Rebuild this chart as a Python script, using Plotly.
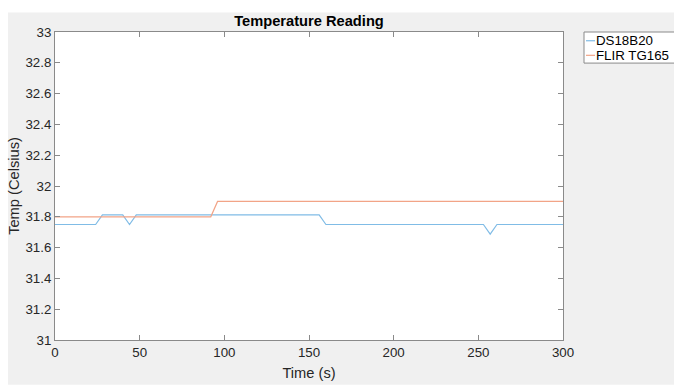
import plotly.graph_objects as go

# ---- data ----
ds_time = [0, 24, 28, 40, 44, 48, 156, 160, 253, 257, 261, 300]
ds_temp = [31.75, 31.75, 31.8125, 31.8125, 31.75, 31.8125, 31.8125, 31.75, 31.75, 31.6875, 31.75, 31.75]
flir_time = [0, 92, 96, 300]
flir_temp = [31.8, 31.8, 31.9, 31.9]
x_ticks = [0, 50, 100, 150, 200, 250, 300]
y_ticks = [31, 31.2, 31.4, 31.6, 31.8, 32, 32.2, 32.4, 32.6, 32.8, 33]
y_ticklabels = ["31", "31.2", "31.4", "31.6", "31.8", "32", "32.2", "32.4", "32.6", "32.8", "33"]
series_names = ["DS18B20", "FLIR TG165"]

# ---- layout geometry (pixels) ----
W, H = 674, 390
L, R, T, B = 55, 563, 32, 349
BLUE = "#80bce6"
ORANGE = "#f2a487"
AX = "#8a8a8a"
TXT = "#262626"
FONT = "Liberation Sans, Arial, Helvetica, sans-serif"
FS = 13.3

def px(x):
    return (x - L) / (R - L)

def py(y):
    return (B - y) / (B - T)

fig = go.Figure()
fig.add_trace(go.Scatter(x=ds_time, y=ds_temp, mode="lines", name=series_names[0],
                         line=dict(color=BLUE, width=1.2), showlegend=False))
fig.add_trace(go.Scatter(x=flir_time, y=flir_temp, mode="lines", name=series_names[1],
                         line=dict(color=ORANGE, width=1.2), showlegend=False))

shapes = [
    dict(type="rect", xref="paper", yref="paper", x0=px(8), x1=px(W + 5), y0=py(H + 5), y1=py(12),
         fillcolor="#f0f0f0", line=dict(width=0), layer="below"),
    dict(type="rect", xref="paper", yref="paper", x0=0, x1=1, y0=0, y1=1,
         fillcolor="white", line=dict(width=0), layer="below"),
    # legend box
    dict(type="rect", xref="paper", yref="paper", x0=px(584), x1=px(W + 20), y0=py(64), y1=py(32),
         fillcolor="white", line=dict(color=AX, width=1)),
    dict(type="line", xref="paper", yref="paper", x0=px(586), x1=px(595), y0=py(41), y1=py(41),
         line=dict(color=BLUE, width=1.2)),
    dict(type="line", xref="paper", yref="paper", x0=px(586), x1=px(595), y0=py(56), y1=py(56),
         line=dict(color=ORANGE, width=1.2)),
]
annotations = [
    dict(text=series_names[0], xref="paper", yref="paper", x=px(594), y=py(41), xanchor="left",
         yanchor="middle", showarrow=False, font=dict(size=FS, color="black", family=FONT)),
    dict(text=series_names[1], xref="paper", yref="paper", x=px(594), y=py(56), xanchor="left",
         yanchor="middle", showarrow=False, font=dict(size=FS, color="black", family=FONT)),
]

axis_common = dict(showline=True, linecolor=AX, linewidth=1, mirror="ticks", ticks="inside",
                   ticklen=5, tickcolor=AX, showgrid=False, zeroline=False,
                   tickfont=dict(size=FS, color=TXT, family=FONT))

fig.update_layout(
    width=W, height=H,
    margin=dict(l=L, r=W - R, t=T, b=H - B),
    paper_bgcolor="white", plot_bgcolor="white",
    font=dict(family=FONT, color=TXT),
    title=dict(text="<b>Temperature Reading</b>", x=(L + R) / 2 / W, xanchor="center",
               y=1 - 21 / H, yanchor="middle", yref="container",
               font=dict(size=14.67, color="black", family=FONT)),
    xaxis=dict(range=[0, 300], tickvals=x_ticks, **axis_common,
               title=dict(text="Time (s)", standoff=8, font=dict(size=14.67, color=TXT, family=FONT))),
    yaxis=dict(range=[31, 33], tickvals=y_ticks, ticktext=y_ticklabels, **axis_common,
               title=dict(text="Temp (Celsius)", standoff=2, font=dict(size=14.67, color=TXT, family=FONT))),
    shapes=shapes,
    annotations=annotations,
    showlegend=False,
)

fig.write_html("out.html", config={"displayModeBar": False},
               post_script="document.body.style.margin='0';")
